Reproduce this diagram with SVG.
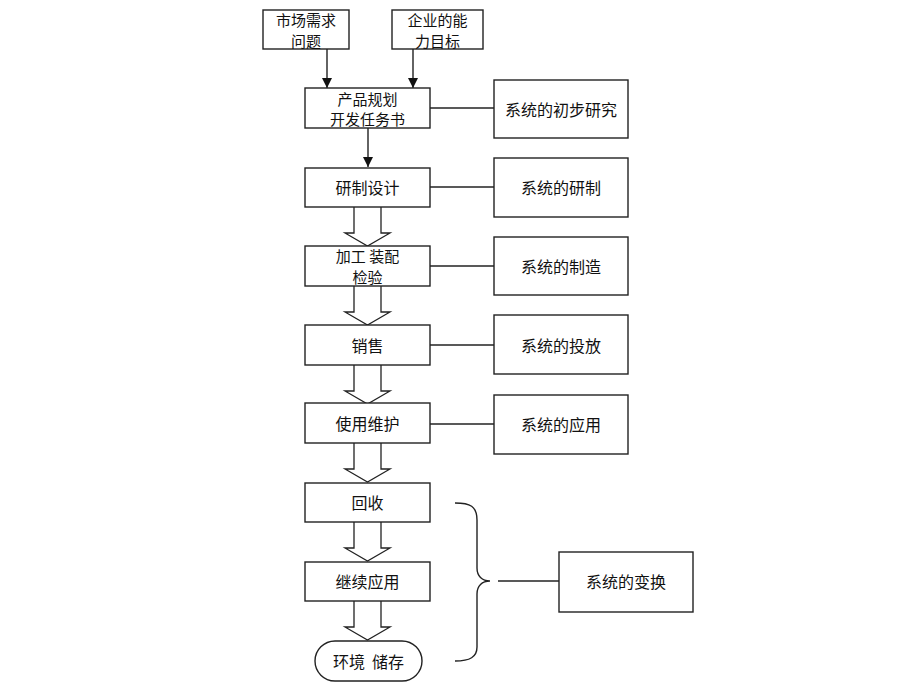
<svg xmlns="http://www.w3.org/2000/svg" width="920" height="690" viewBox="0 0 920 690">
<defs>
<style>
.b{fill:#fff;stroke:#222;stroke-width:1.4}
.l{fill:none;stroke:#222;stroke-width:1.4}
.t{font-family:"Noto Sans CJK SC","Noto Sans",sans-serif;font-size:16px;fill:#111;text-anchor:middle;dominant-baseline:central;white-space:pre}
.t2{font-size:15px}
.h{fill:#fff;stroke:#222;stroke-width:1.3}
</style>
<marker id="ar" viewBox="0 0 10 10" refX="10" refY="5" markerWidth="10" markerHeight="10" markerUnits="userSpaceOnUse" orient="auto">
<path d="M0,0 L10,5 L0,10 Z" fill="#111"/>
</marker>
<path id="hol" d="M-13.5,0 V26 H-22.5 L0,39 L22.5,26 H13.5 V0"/>
</defs>
<rect width="920" height="690" fill="#fff"/>
<g id="connectors">
<line class="l" x1="327" y1="49" x2="327" y2="88" marker-end="url(#ar)"/>
<line class="l" x1="413" y1="49" x2="413" y2="88" marker-end="url(#ar)"/>
<line class="l" x1="368" y1="128" x2="368" y2="167" marker-end="url(#ar)"/>
<line class="l" x1="430" y1="108" x2="494" y2="108"/>
<line class="l" x1="430" y1="187" x2="494" y2="187"/>
<line class="l" x1="430" y1="266" x2="494" y2="266"/>
<line class="l" x1="430" y1="345" x2="494" y2="345"/>
<line class="l" x1="430" y1="424" x2="494" y2="424"/>
<use href="#hol" class="h" x="367.5" y="207"/>
<use href="#hol" class="h" x="367.5" y="286"/>
<use href="#hol" class="h" x="367.5" y="365"/>
<use href="#hol" class="h" x="367.5" y="443"/>
<use href="#hol" class="h" x="367.5" y="522"/>
<use href="#hol" class="h" x="367.5" y="601"/>
<path class="l" d="M455,503 C470,503 477,506 477,520 V568 C477,576 482,581 490,581 C482,581 477,586 477,594 V647 C477,657 470,661 455,661"/>
<line class="l" x1="498" y1="581" x2="559" y2="581"/>
</g>
<g id="n_market"><rect class="b" x="263" y="10" width="86" height="39"/><text class="t t2" x="306" y="19.5">市场需求<tspan x="306" dy="20">问题</tspan></text></g>
<g id="n_ability"><rect class="b" x="392" y="10" width="91" height="39"/><text class="t t2" x="437.5" y="19.5">企业的能<tspan x="437.5" dy="20">力目标</tspan></text></g>
<g id="n_plan"><rect class="b" x="305" y="88" width="125" height="40"/><text class="t t2" x="367.5" y="98">产品规划<tspan x="367.5" dy="20">开发任务书</tspan></text></g>
<g id="n_design"><rect class="b" x="305" y="168" width="125" height="39"/><text class="t" x="367.5" y="187">研制设计</text></g>
<g id="n_make"><rect class="b" x="305" y="246" width="125" height="40"/><text class="t t2" x="367.5" y="255.5">加工 装配<tspan x="367.5" dy="20">检验</tspan></text></g>
<g id="n_sale"><rect class="b" x="305" y="325" width="125" height="40"/><text class="t" x="367.5" y="345">销售</text></g>
<g id="n_use"><rect class="b" x="305" y="403" width="125" height="40"/><text class="t" x="367.5" y="423">使用维护</text></g>
<g id="n_recycle"><rect class="b" x="305" y="483" width="125" height="39"/><text class="t" x="367.5" y="502">回收</text></g>
<g id="n_reuse"><rect class="b" x="305" y="562" width="125" height="39"/><text class="t" x="367.5" y="581">继续应用</text></g>
<g id="n_store"><rect class="b" x="315" y="641" width="107" height="40" rx="20" ry="20"/><text class="t" x="368.5" y="661">环境  储存</text></g>
<g id="r_research"><rect class="b" x="494" y="80" width="134" height="58"/><text class="t" x="561" y="109">系统的初步研究</text></g>
<g id="r_develop"><rect class="b" x="494" y="158" width="134" height="59"/><text class="t" x="561" y="187">系统的研制</text></g>
<g id="r_manufacture"><rect class="b" x="494" y="237" width="134" height="58"/><text class="t" x="561" y="266">系统的制造</text></g>
<g id="r_launch"><rect class="b" x="494" y="315" width="134" height="59"/><text class="t" x="561" y="345">系统的投放</text></g>
<g id="r_apply"><rect class="b" x="494" y="395" width="134" height="59"/><text class="t" x="561" y="424">系统的应用</text></g>
<g id="r_transform"><rect class="b" x="559" y="552" width="134" height="60"/><text class="t" x="626" y="581">系统的变换</text></g>
</svg>
